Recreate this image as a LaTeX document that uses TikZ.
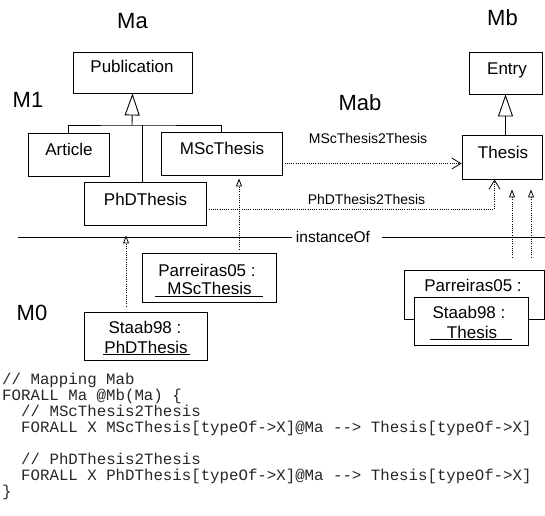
\documentclass[tikz,border=0pt]{standalone}
\usepackage{fontspec}
\setmainfont{Liberation Sans}
\newfontfamily\codefont{Liberation Mono}
\usetikzlibrary{arrows.meta}
\begin{document}
\begin{tikzpicture}[x=1pt,y=-1pt,
  box/.style={draw, line width=0.9pt, fill=white, inner sep=0pt},
  lab/.style={font=\fontsize{17}{20}\selectfont, inner sep=0pt, text height=12.2pt, text depth=0pt},
  big/.style={font=\fontsize{22}{26}\selectfont, inner sep=0pt, text height=15.8pt, text depth=0pt},
  maplab/.style={font=\fontsize{14}{17}\selectfont, inner sep=0pt, text height=10pt, text depth=0pt},
  codeline/.style={font=\codefont\fontsize{15.75}{16}\selectfont, text=black!85, inner sep=0pt,
    text height=9.5pt, text depth=2.5pt, anchor=base west},
  gen/.style={line width=0.9pt, -{Triangle[open, length=22pt, width=15pt, line width=0.9pt]}},
  map/.style={line width=0.8pt, dash pattern=on 1pt off 1.2pt, -{Straight Barb[length=9pt, width=11pt, line width=0.8pt]}},
  inst/.style={line width=0.8pt, dash pattern=on 1pt off 1.2pt, -{Triangle[open, length=8pt, width=6pt, line width=0.8pt]}},
  uline/.style={line width=0.9pt}]
\useasboundingbox (0,0) rectangle (545,515);

% level titles
\node[big] (tMa)  at (132.5,21) {Ma};
\node[big] (tMb)  at (502.5,18) {Mb};
\node[big] (tM1)  at (28,100)   {M1};
\node[big] (tMab) at (360,103)  {Mab};
\node[big] (tM0)  at (32,313)   {M0};

% model Ma
\node[box, minimum width=119pt, minimum height=41pt] (pub) at (132.5,72.5) {};
\node[lab] (pubT) at (132,66) {Publication};
\node[box, minimum width=81pt, minimum height=43pt] (art) at (68.5,154.5) {};
\node[lab] (artT) at (69,149) {Article};
\node[box, minimum width=121pt, minimum height=43pt] (msc) at (221.5,153.5) {};
\node[lab] (mscT) at (222,148) {MScThesis};
\node[box, minimum width=122pt, minimum height=43pt] (phd) at (145,203.5) {};
\node[lab] (phdT) at (145.5,199) {PhDThesis};

% model Mb
\node[box, minimum width=73pt, minimum height=42pt] (entry) at (505.5,73) {};
\node[lab] (entryT) at (507,68) {Entry};
\node[box, minimum width=80pt, minimum height=44pt] (thesis) at (502,157) {};
\node[lab] (thesisT) at (503,152) {Thesis};

% generalisation tree of Ma
\coordinate (pj) at (132,125);
\coordinate (pjd) at (142,125);
\draw[gen] (pj) -- (pub.south);
\draw[line width=0.9pt] (art.north) |- (pj) -| (msc.north);
\draw[line width=0.9pt] (pjd) -- (pjd |- phd.north);

% generalisation in Mb
\draw[gen] (thesis.north -| entry.south) -- (entry.south);

% mappings Mab
\draw[map] ([yshift=-10pt]msc.east) -- ([yshift=-10pt]msc.east -| thesis.west);
\node[maplab] (m1T) at (368,138) {MScThesis2Thesis};
\draw[map] ([yshift=-5.5pt]phd.east) -| ([xshift=33pt]thesis.south west);
\node[maplab] (m2T) at (366.5,199) {PhDThesis2Thesis};

% separator between M1 and M0
\node[font=\fontsize{15.5}{18}\selectfont, inner sep=0pt, text height=11.1pt, text depth=0pt] (instT) at (333,237) {instanceOf};
\coordinate (iL) at (18,237);
\coordinate (iR) at (545,237);
\draw[line width=0.9pt] (iL) -- ([xshift=-4pt]instT.west);
\draw[line width=0.9pt] ([xshift=12pt]instT.east) -- (iR);

% instances of Ma
\node[box, minimum width=134pt, minimum height=49pt] (parr) at (209,277.5) {};
\node[lab] (parrT1) at (207,270) {Parreiras05 :};
\node[lab] (parrT2) at (209.5,288) {MScThesis};
\draw[uline] (155,296) -- (263,296);
\node[box, minimum width=123pt, minimum height=48pt] (staab) at (145.5,336) {};
\node[lab] (staabT1) at (145,327) {Staab98 :};
\node[lab] (staabT2) at (146,347) {PhDThesis};
\draw[uline] (103,354) -- (190,354);

% instances of Mb
\node[box, minimum width=140pt, minimum height=49pt] (parr2) at (474,294.5) {};
\node[lab] (parr2T) at (473,285) {Parreiras05 :};
\node[box, minimum width=114pt, minimum height=48pt] (staab2) at (471,321) {};
\node[lab] (staab2T1) at (469,312) {Staab98 :};
\node[lab] (staab2T2) at (472,332) {Thesis};
\draw[uline] (430,339) -- (512,339);

% instanceOf links
\draw[inst, shorten <=3pt, shorten >=3pt] ([xshift=30pt]parr.north) -- ([xshift=30pt]parr.north |- msc.south);
\draw[inst, shorten <=5pt, shorten >=10pt] ([xshift=-19.5pt]staab.north) -- ([xshift=-19.5pt]staab.north |- phd.south);
\draw[inst, shorten <=12pt, shorten >=10pt] ([xshift=38pt]parr2.north) -- ([xshift=38pt]parr2.north |- thesis.south);
\draw[inst, shorten <=12pt, shorten >=10pt] ([xshift=57pt]parr2.north) -- ([xshift=57pt]parr2.north |- thesis.south);

% mapping rules
\node[codeline] (c1) at (2,384) {// Mapping Mab};
\node[codeline] (c2) at (2,400) {FORALL Ma @Mb(Ma) \{};
\node[codeline] (c3) at (21,416) {// MScThesis2Thesis};
\node[codeline] (c4) at (21,432) {FORALL X MScThesis[typeOf->X]@Ma -{}-> Thesis[typeOf->X]};
\node[codeline] (c5) at (21,464) {// PhDThesis2Thesis};
\node[codeline] (c6) at (21,480) {FORALL X PhDThesis[typeOf->X]@Ma -{}-> Thesis[typeOf->X]};
\node[codeline] (c7) at (2,496) {\}};
\end{tikzpicture}
\end{document}
